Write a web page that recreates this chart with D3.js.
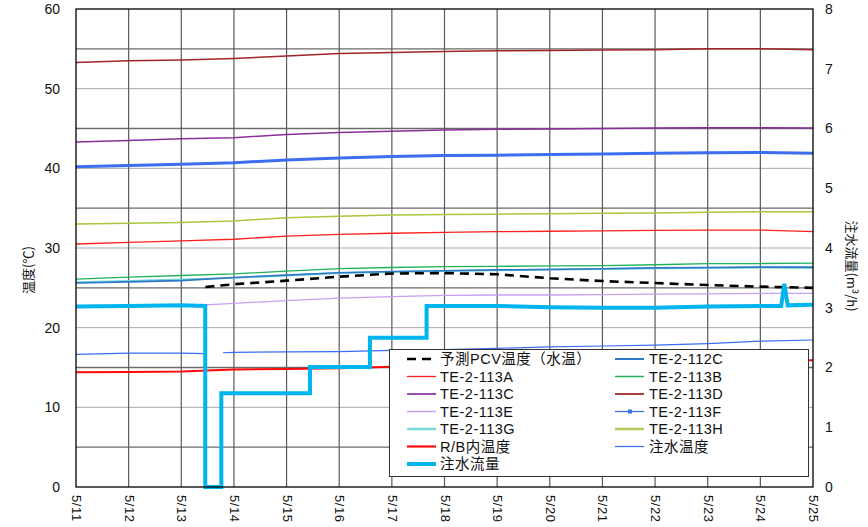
<!DOCTYPE html>
<html>
<head>
<meta charset="utf-8">
<script src="https://cdn.jsdelivr.net/npm/d3@7"></script>
<style>
  html, body { margin: 0; padding: 0; background: #fff; }
  svg { display: block; }
  .tick-label { font-family: "Liberation Sans", Arial, sans-serif; font-size: 14px; fill: #111; }
  .jp { font-family: "Noto Sans CJK JP", sans-serif; fill: #111; }
  .legend-text { font-family: "Liberation Sans", "Noto Sans CJK JP", sans-serif; fill: #111; font-size: 14.5px; }
</style>
</head>
<body>
<svg id="chart" width="868" height="527"></svg>
<script>
// Dates along the x axis (one value per day, 00:00)
const days = ["5/11","5/12","5/13","5/14","5/15","5/16","5/17","5/18","5/19","5/20","5/21","5/22","5/23","5/24","5/25"];

// Temperature ticks (°C) and flow ticks (m3/h)
const tempTicks = [0, 10, 20, 30, 40, 50, 60];
const flowTicks = [0, 1, 2, 3, 4, 5, 6, 7, 8];

// Daily temperatures (°C)
const te113D = [53.3, 53.5, 53.6, 53.8, 54.1, 54.4, 54.55, 54.65, 54.75, 54.8, 54.85, 54.9, 55.0, 55.0, 54.9];
const te113C = [43.3, 43.5, 43.7, 43.85, 44.25, 44.5, 44.65, 44.8, 44.9, 44.95, 45.0, 45.05, 45.1, 45.1, 45.05];
const te113F = [40.2, 40.35, 40.5, 40.7, 41.05, 41.3, 41.5, 41.6, 41.65, 41.75, 41.8, 41.9, 41.95, 42.0, 41.9];
const te113H = [33.0, 33.1, 33.2, 33.4, 33.8, 34.0, 34.15, 34.2, 34.25, 34.3, 34.35, 34.4, 34.5, 34.55, 34.55];
const te113A = [30.5, 30.7, 30.9, 31.1, 31.5, 31.7, 31.85, 31.95, 32.05, 32.1, 32.15, 32.2, 32.25, 32.25, 32.05];
const te113B = [26.1, 26.35, 26.55, 26.75, 27.1, 27.4, 27.55, 27.65, 27.7, 27.75, 27.8, 27.9, 28.05, 28.05, 28.1];
const te112C = [25.6, 25.75, 25.9, 26.3, 26.6, 26.9, 27.05, 27.15, 27.25, 27.3, 27.4, 27.5, 27.55, 27.6, 27.6];
const te113G = [25.7, 25.85, 26.05, 26.25, 26.55, 26.85, 27.0, 27.1, 27.2, 27.3, 27.35, 27.45, 27.5, 27.55, 27.5];
const rbTemp = [14.4, 14.45, 14.5, 14.75, 14.8, 14.9, 15.1, 15.2, 15.3, 15.4, 15.5, 15.6, 15.7, 15.8, 15.9];

// Predicted PCV temperature (water), from 5/13 onwards
const pcvTimes = ["5/13 11:00","5/14 00:00","5/15 00:00","5/16 00:00","5/17 00:00","5/18 00:00","5/19 00:00","5/20 00:00","5/21 00:00","5/22 00:00","5/23 00:00","5/24 00:00","5/25 00:00"];
const pcvTemp = [25.1, 25.45, 25.9, 26.4, 26.8, 26.85, 26.7, 26.2, 25.85, 25.6, 25.35, 25.15, 25.0];

// TE-2-113E, from 5/13 onwards
const te113ETimes = ["5/13 11:00","5/14 00:00","5/15 00:00","5/16 00:00","5/17 00:00","5/18 00:00","5/19 00:00","5/20 00:00","5/21 00:00","5/22 00:00","5/23 00:00","5/24 00:00","5/25 00:00"];
const te113E = [22.85, 23.05, 23.4, 23.7, 23.9, 24.05, 24.1, 24.1, 24.15, 24.2, 24.25, 24.3, 24.3];

// Injection water temperature (null = no data)
const injTempTimes = ["5/11 00:00","5/12 00:00","5/13 00:00","5/13 10:55","5/13 12:00","5/13 19:00","5/14 00:00","5/15 00:00","5/16 00:00","5/17 00:00","5/18 00:00","5/19 00:00","5/20 00:00","5/21 00:00","5/22 00:00","5/23 00:00","5/24 00:00","5/25 00:00"];
const injTemp = [16.65, 16.8, 16.8, 16.75, null, 16.85, 16.9, 16.95, 17.0, 17.15, 17.25, 17.4, 17.6, 17.7, 17.8, 18.0, 18.3, 18.45];

// Injection flow rate (m3/h)
const flowTimes = ["5/11 00:00","5/12 00:00","5/13 00:00","5/13 10:55","5/13 10:55","5/13 18:15","5/13 18:15","5/15 10:40","5/15 10:40","5/16 14:00","5/16 14:00","5/17 15:50","5/17 15:50","5/19 00:00","5/20 00:00","5/21 00:00","5/22 00:00","5/23 00:00","5/24 09:30","5/24 10:55","5/24 12:30","5/25 00:00"];
const flowRate = [3.02, 3.03, 3.04, 3.03, 0, 0, 1.57, 1.57, 2.01, 2.01, 2.5, 2.5, 3.03, 3.03, 3.01, 3.0, 3.0, 3.02, 3.03, 3.4, 3.04, 3.05];

const parse = d3.timeParse("%m/%d %H:%M");
const dayTimes = days.map(d => parse(d + " 00:00"));

const svg = d3.select("#chart");
const L = 76, R = 813, T = 9, B = 487;

const x = d3.scaleTime().domain([dayTimes[0], dayTimes[dayTimes.length - 1]]).range([L, R]);
const yT = d3.scaleLinear().domain([0, 60]).range([B, T]);
const yF = d3.scaleLinear().domain([0, 8]).range([B, T]);

// Grid: light lines at every 10 °C, darker lines halfway between, dark lines each day
const grid = svg.append("g");
grid.selectAll(".hg").data(d3.range(10, 60, 10)).join("line")
  .attr("x1", L).attr("x2", R).attr("y1", d => yT(d)).attr("y2", d => yT(d))
  .attr("stroke", "#a8a8a8").attr("stroke-width", 1);
grid.selectAll(".hg2").data(d3.range(5, 60, 10)).join("line")
  .attr("x1", L).attr("x2", R).attr("y1", d => yT(d)).attr("y2", d => yT(d))
  .attr("stroke", "#6a6a6a").attr("stroke-width", 1.4);
grid.selectAll(".vg").data(dayTimes.slice(1, -1)).join("line")
  .attr("x1", d => x(d)).attr("x2", d => x(d)).attr("y1", T).attr("y2", B)
  .attr("stroke", "#5a5a5a").attr("stroke-width", 1.2);

// Axes
const axL = svg.append("g").attr("transform", `translate(${L},0)`)
  .call(d3.axisLeft(yT).tickValues(tempTicks).tickSize(0).tickPadding(16));
axL.select(".domain").remove();
axL.selectAll("text").attr("class", "tick-label").attr("font-size", null).attr("font-family", null);

const axR = svg.append("g").attr("transform", `translate(${R},0)`)
  .call(d3.axisRight(yF).tickValues(flowTicks).tickSize(0).tickPadding(12));
axR.select(".domain").remove();
axR.selectAll("text").attr("class", "tick-label").attr("font-size", null).attr("font-family", null);

const axB = svg.append("g").attr("transform", `translate(0,${B})`)
  .call(d3.axisBottom(x).tickValues(dayTimes).tickSize(0).tickFormat((d, i) => days[i]));
axB.select(".domain").remove();
axB.selectAll("text")
  .attr("class", "tick-label")
  .attr("font-size", null).attr("font-family", null)
  .style("font-size", "13px").style("letter-spacing", "0.6px")
  .attr("y", 0).attr("dy", null)
  .attr("transform", "translate(0,8) rotate(90)")
  .attr("text-anchor", "start").attr("dominant-baseline", "central");

// Axis titles
svg.append("text").attr("class", "jp")
  .attr("transform", "translate(27,270) rotate(-90)")
  .attr("text-anchor", "middle").attr("dominant-baseline", "central")
  .style("font-size", "13px").text("温度(℃)");
svg.append("text").attr("class", "jp")
  .attr("transform", "translate(852,266) rotate(90)")
  .attr("text-anchor", "middle").attr("dominant-baseline", "central")
  .style("font-size", "13px").text("注水流量(m³/h)");

// Lines
const lineT = d3.line().defined(d => d[1] != null).x(d => x(d[0])).y(d => yT(d[1]));
const lineF = d3.line().x(d => x(d[0])).y(d => yF(d[1]));
const daily = vals => dayTimes.map((t, i) => [t, vals[i]]);
const timed = (times, vals) => times.map((t, i) => [parse(t), vals[i]]);

const series = [
  { name: "TE-2-113D", data: daily(te113D), color: "#a3232a", w: 1.5 },
  { name: "TE-2-113C", data: daily(te113C), color: "#8b2e9c", w: 1.5 },
  { name: "TE-2-113F", data: daily(te113F), color: "#3d6ef2", w: 3 },
  { name: "TE-2-113H", data: daily(te113H), color: "#a6c83a", w: 1.5 },
  { name: "TE-2-113A", data: daily(te113A), color: "#ff2020", w: 1.3 },
  { name: "TE-2-113B", data: daily(te113B), color: "#1fb25a", w: 1.3 },
  { name: "TE-2-113G", data: daily(te113G), color: "#72d6d6", w: 2 },
  { name: "TE-2-112C", data: daily(te112C), color: "#2f78c8", w: 1.6 },
  { name: "TE-2-113E", data: timed(te113ETimes, te113E), color: "#c7a0f2", w: 1.3 },
  { name: "注水温度", data: timed(injTempTimes, injTemp), color: "#3a6cf5", w: 1.2 },
  { name: "R/B内温度", data: daily(rbTemp), color: "#ff0a0a", w: 2 }
];

const lines = svg.append("g").attr("fill", "none");
series.forEach(s => {
  lines.append("path").datum(s.data).attr("d", lineT)
    .attr("stroke", s.color).attr("stroke-width", s.w).attr("stroke-linejoin", "round");
});
lines.append("path").datum(timed(pcvTimes, pcvTemp)).attr("d", lineT)
  .attr("stroke", "#000").attr("stroke-width", 2.6).attr("stroke-dasharray", "9,6");
lines.append("path").datum(timed(flowTimes, flowRate)).attr("d", lineF)
  .attr("stroke", "#00b4ef").attr("stroke-width", 4).attr("stroke-linejoin", "miter");

// Plot frame
svg.append("rect").attr("x", L).attr("y", T).attr("width", R - L).attr("height", B - T)
  .attr("fill", "none").attr("stroke", "#000").attr("stroke-width", 1.3);

// Legend
const legendItems = [
  { label: "予測PCV温度（水温）", color: "#000", w: 2.6, dash: "9,6" },
  { label: "TE-2-112C", color: "#2f78c8", w: 2 },
  { label: "TE-2-113A", color: "#ff2020", w: 1.3 },
  { label: "TE-2-113B", color: "#1fb25a", w: 1.5 },
  { label: "TE-2-113C", color: "#9a4cb0", w: 2 },
  { label: "TE-2-113D", color: "#a84040", w: 2 },
  { label: "TE-2-113E", color: "#c7a0f2", w: 1.5 },
  { label: "TE-2-113F", color: "#3d6ef2", w: 1.3, marker: true },
  { label: "TE-2-113G", color: "#7ad8d8", w: 2.5 },
  { label: "TE-2-113H", color: "#b5cc5a", w: 2.5 },
  { label: "R/B内温度", color: "#ff0a0a", w: 2.2 },
  { label: "注水温度", color: "#3a6cf5", w: 1.2 },
  { label: "注水流量", color: "#00b4ef", w: 4 }
];
const lg = svg.append("g");
lg.append("rect").attr("x", 389.5).attr("y", 349.5).attr("width", 419).attr("height", 127)
  .attr("fill", "#fff").attr("stroke", "#333").attr("stroke-width", 1);
legendItems.forEach((it, i) => {
  const col = i % 2, row = Math.floor(i / 2);
  const sx = col === 0 ? 407 : 615;
  const tx = col === 0 ? 440 : 649;
  const cy = 359 + row * 17.5;
  lg.append("line").attr("x1", sx).attr("x2", sx + 29).attr("y1", cy).attr("y2", cy)
    .attr("stroke", it.color).attr("stroke-width", it.w)
    .attr("stroke-dasharray", it.dash || null);
  if (it.marker) {
    lg.append("rect").attr("x", sx + 13).attr("y", cy - 2).attr("width", 4).attr("height", 4)
      .attr("fill", it.color);
  }
  lg.append("text").attr("class", "legend-text").attr("x", tx).attr("y", cy)
    .attr("dy", "0.36em")
    .style("letter-spacing", "0.5px")
    .text(it.label);
});
</script>
</body>
</html>
